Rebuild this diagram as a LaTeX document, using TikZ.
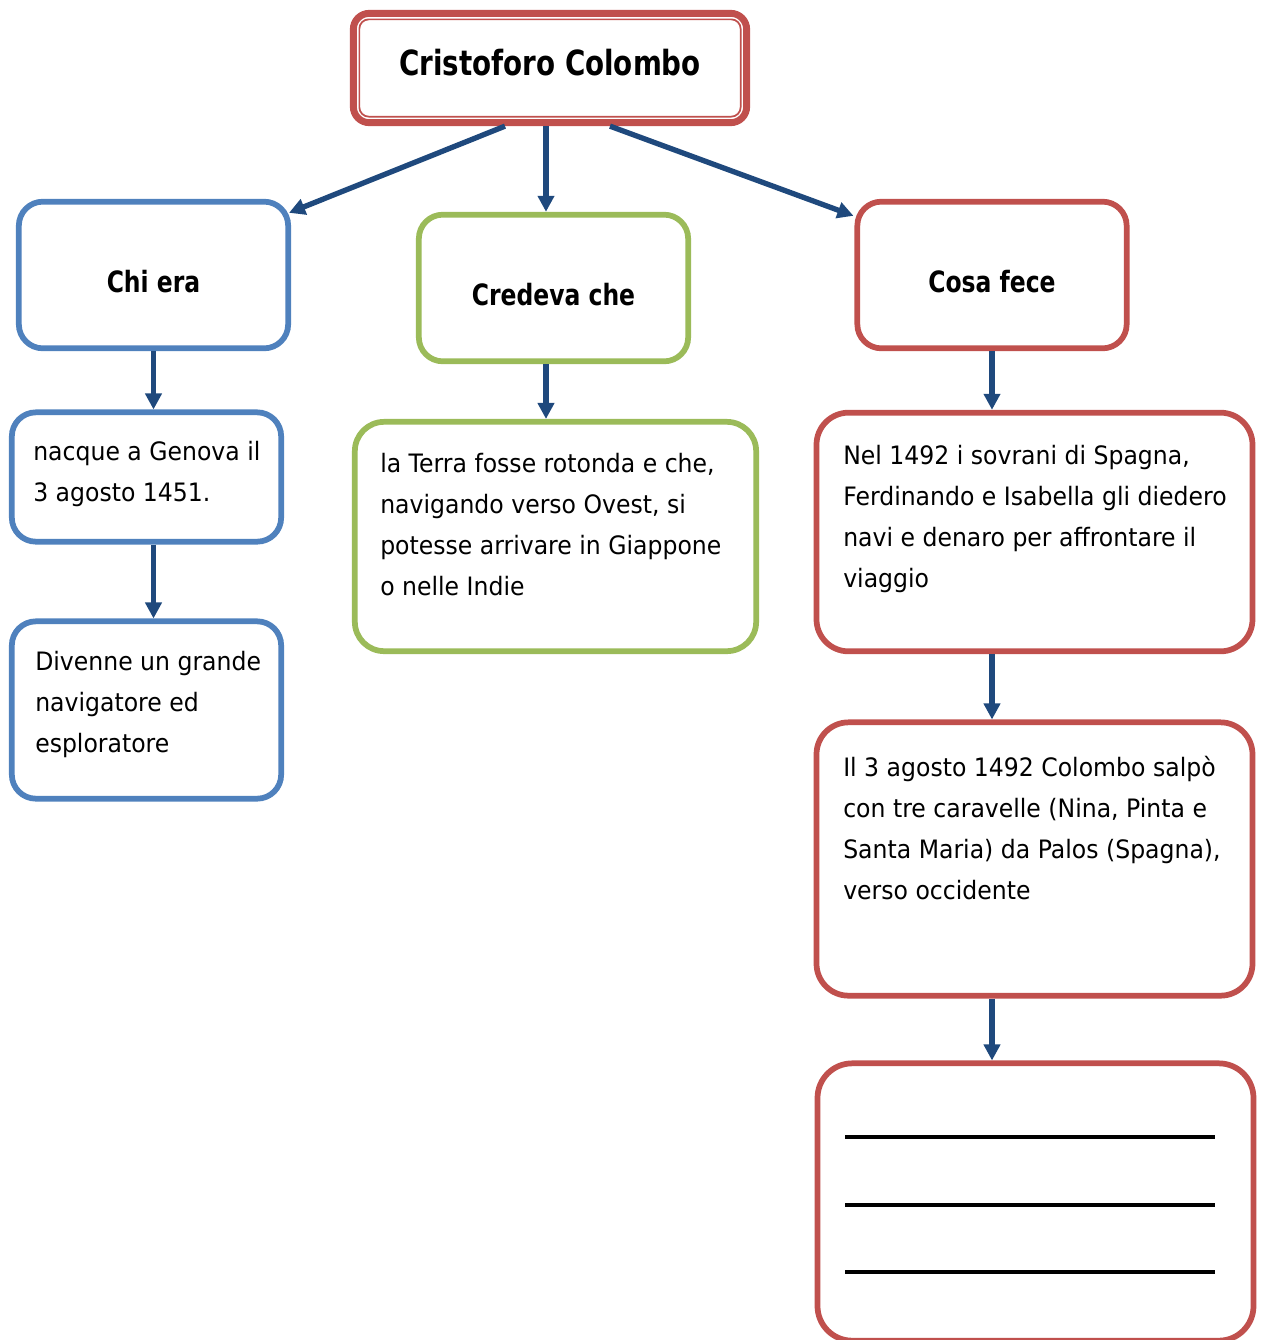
\documentclass[tikz,border=0pt]{standalone}
\usepackage{fontspec}
\setmainfont{DejaVu Sans}[FakeStretch=0.93]
\newfontfamily\headfont{DejaVu Sans}[FakeStretch=0.8]
\usepackage{tikz}
\usetikzlibrary{arrows.meta}
\definecolor{cred}{HTML}{C0504D}
\definecolor{cblue}{HTML}{4F81BD}
\definecolor{cgreen}{HTML}{9BBB59}
\definecolor{carrow}{HTML}{1F497D}
\tikzset{
  box/.style={draw, line width=4.3pt, fill=white, rounded corners=18pt},
  head/.style={box, font=\headfont\fontsize{22}{26}\selectfont\bfseries, text height=26pt},
  txt/.style={anchor=north west, inner sep=0pt, align=left, font=\fontsize{19}{30.75}\selectfont},
  arr/.style={carrow, line width=4pt, -{Triangle[length=12pt,width=12pt]}},
}
\begin{document}
\begin{tikzpicture}[x=0.75pt,y=-0.75pt]
\useasboundingbox (0,0) rectangle (1266,1340);
\node[box, draw=cred, line width=5.2pt, rounded corners=12pt, minimum width=295pt, minimum height=82pt, font=\headfont\fontsize{26}{32}\selectfont\bfseries, text depth=9pt] (top) at (550,68) {Cristoforo Colombo};
\draw[cred, line width=1.3pt, rounded corners=7pt] ([shift={(9.5,9.5)}]top.north west) rectangle ([shift={(-9.5,-9.5)}]top.south east);
\node[head, draw=cblue, minimum width=202pt, minimum height=110pt] (chi) at (153.5,275) {Chi era};
\node[head, draw=cgreen, minimum width=202pt, minimum height=110pt] (cred) at (553.5,288) {Credeva che};
\node[head, draw=cred, minimum width=202pt, minimum height=110pt] (cosa) at (992,275) {Cosa fece};
\node[box, draw=cblue, minimum width=202pt, minimum height=97pt] (nacque) at (146.5,477) {};
\node[box, draw=cblue, minimum width=202pt, minimum height=133pt] (divenne) at (146.5,710) {};
\node[box, draw=cgreen, minimum width=301pt, minimum height=172pt, rounded corners=22pt] (terra) at (555.5,536.5) {};
\node[box, draw=cred, minimum width=327pt, minimum height=179pt, rounded corners=24pt] (nel) at (1034.5,532) {};
\node[box, draw=cred, minimum width=327pt, minimum height=205pt, rounded corners=24pt] (il) at (1034.5,859) {};
\node[box, draw=cred, minimum width=327pt, minimum height=208pt, rounded corners=26pt] (blank) at (1035.5,1202) {};
\node[txt] (nacque-t) at (33,441) {nacque a Genova il\\3 agosto 1451.};
\node[txt] (divenne-t) at (35,651) {Divenne un grande\\navigatore ed\\esploratore};
\node[txt] (terra-t) at (380,453) {la Terra fosse rotonda e che,\\navigando verso Ovest, si\\potesse arrivare in Giappone\\o nelle Indie};
\node[txt] (nel-t) at (843,445) {Nel 1492 i sovrani di Spagna,\\Ferdinando e Isabella gli diedero\\navi e denaro per affrontare il\\viaggio};
\node[txt] (il-t) at (843,756) {Il 3 agosto 1492 Colombo salpò\\con tre caravelle (Nina, Pinta e\\Santa Maria) da Palos (Spagna),\\verso occidente};
\foreach \y in {1137,1205,1272}
  \draw[line width=2.6pt] (845,\y) -- (1215,\y);
\coordinate (mid) at (546,0);
\draw[arr] ([shift={(-45,0)}]top.south) -- ([shift={(-2,14)}]chi.north east);
\draw[arr] (top.south -| mid) -- (cred.north -| mid);
\draw[arr] ([shift={(60,0)}]top.south) -- ([shift={(-1,17)}]cosa.north west);
\draw[arr] (chi.south) -- (chi.south |- nacque.north);
\draw[arr] (nacque.south -| chi.south) -- (chi.south |- divenne.north);
\draw[arr] (cred.south -| mid) -- (terra.north -| mid);
\draw[arr] (cosa.south) -- (cosa.south |- nel.north);
\draw[arr] (nel.south -| cosa.south) -- (cosa.south |- il.north);
\draw[arr] (il.south -| cosa.south) -- (cosa.south |- blank.north);
\end{tikzpicture}
\end{document}
